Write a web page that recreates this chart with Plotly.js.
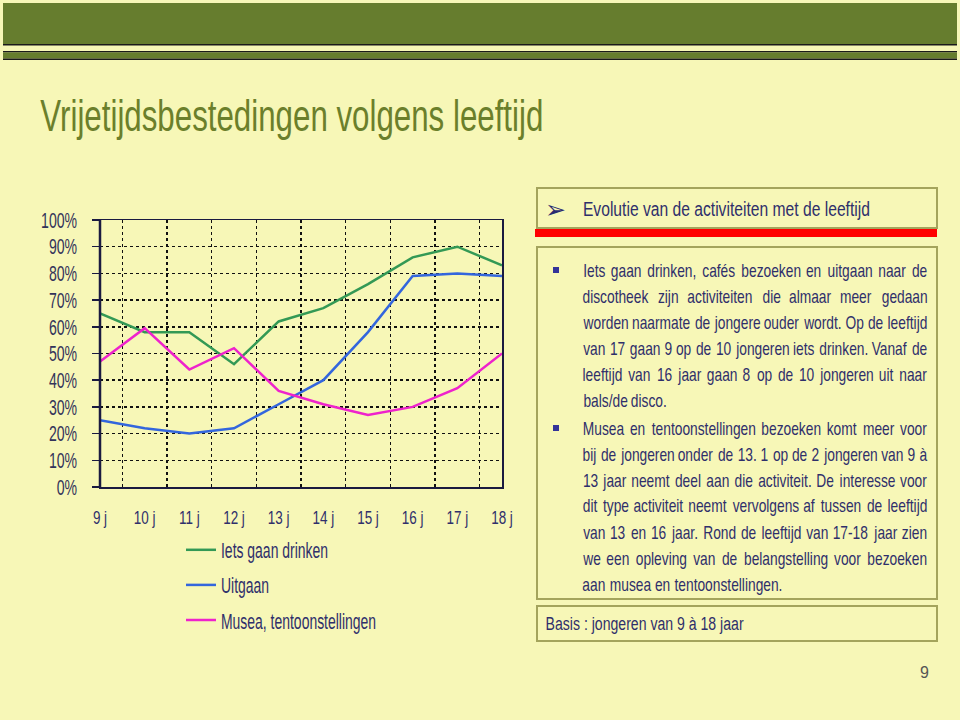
<!DOCTYPE html>
<html><head><meta charset="utf-8">
<script src="https://cdn.plot.ly/plotly-3.0.1.min.js"></script>
<style>body{margin:0;background:#F7F7B7;} #chart{width:960px;height:720px;}</style>
</head><body><div id="chart"></div>
<script>
const ages = ["9 j","10 j","11 j","12 j","13 j","14 j","15 j","16 j","17 j","18 j"];
const drinken = [65, 58, 58, 46, 62, 67, 76, 86, 90, 83];
const uitgaan = [25, 22, 20, 22, 31, 40, 58, 79, 80, 79];
const musea = [47, 59.5, 44, 52, 36, 31, 27, 30, 37, 50];
const seriesNames = ["Iets gaan drinken", "Uitgaan", "Musea, tentoonstellingen"];
const yTicks = [0,10,20,30,40,50,60,70,80,90,100];
const yTickLabels = ["0%","10%","20%","30%","40%","50%","60%","70%","80%","90%","100%"];

const pageTitle = "Vrijetijdsbestedingen volgens leeftijd";
const boxHeading = "Evolutie van de activiteiten met de leeftijd";
const para1 = ["Iets gaan drinken, cafés bezoeken en uitgaan naar de",
  "discotheek zijn activiteiten die almaar meer gedaan",
  "worden naarmate de jongere ouder wordt. Op de leeftijd",
  "van 17 gaan 9 op de 10 jongeren iets drinken. Vanaf de",
  "leeftijd van 16 jaar gaan 8 op de 10 jongeren uit naar",
  "bals/de disco."];
const para2 = ["Musea en tentoonstellingen bezoeken komt meer voor",
  "bij de jongeren onder de 13. 1 op de 2 jongeren van 9 à",
  "13 jaar neemt deel aan die activiteit. De interesse voor",
  "dit type activiteit neemt vervolgens af tussen de leeftijd",
  "van 13 en 16 jaar. Rond de leeftijd van 17-18 jaar zien",
  "we een opleving van de belangstelling voor bezoeken",
  "aan musea en tentoonstellingen."];
const basis = "Basis : jongeren van 9 à 18 jaar";
const pageNum = "9";

const W = 960, H = 720;
const X = p => p / W, Y = p => 1 - p / H;
const FAM = '"Liberation Sans", Arial, sans-serif';
const NAVY = '#2F2F6B';
const BG = '#F7F7B7';

const cv = document.createElement('canvas').getContext('2d');
function measure(t, size){ cv.font = size + 'px ' + FAM; return cv.measureText(t).width; }

const shapes = [];
const annotations = [];
const kAnn = [];
function rect(x0,y0,x1,y1,fill,lineColor,lw){
  shapes.push({type:'rect',xref:'paper',yref:'paper',x0:X(x0),x1:X(x1),y0:Y(y1),y1:Y(y0),
    fillcolor:fill, line:{color:lineColor||'rgba(0,0,0,0)', width:lw||0}, layer:'below'});
}
function text(t,x,y,size,color,xanchor,k){
  annotations.push({text:t,xref:'paper',yref:'paper',x:X(x),y:Y(y),xanchor:xanchor||'left',yanchor:'middle',
    showarrow:false,borderpad:0,font:{family:FAM,size:size,color:color}});
  kAnn.push(k||1);
}
function ctext(t,left,y,size,color,width){
  const k = width / measure(t,size);
  text(t, left + width/2, y, size, color, 'center', k);
}
// header
rect(3,3,957,44,'#667D2E');
rect(3,44,957,45.5,'#1a1a1a');
rect(3,51,957,52.5,'#1a1a1a');
rect(3,52.5,957,58.5,'#667D2E');
rect(3,58.5,957,60,'#1a1a1a');
ctext(pageTitle,40,116,44,'#6B7F2B',503);

// right boxes
rect(537,188,937,228,BG,'#A4A45C',2);
rect(535,229,937,237,'#FF0000');
rect(537,247,937,599,BG,'#A4A45C',2);
rect(537,606,937,641,BG,'#A4A45C',2);
text('➢',544,209,25,'#2A2A70');
ctext(boxHeading,583,209,20,NAVY,287);
ctext(basis,545,624,18,NAVY,198);
text(pageNum,924,672,16,'#555555','center');

// bullets
rect(553,267,559,273,'#333399');
rect(553,425,559,431,'#333399');

// justified paragraphs
const L = 583, R = 927, FS = 19;
let kP = 199 / measure(para2[para2.length-1], FS);
[...para1, ...para2].forEach(l => { kP = Math.min(kP, (R-L) / measure(l, FS)); });
function para(lines, y0){
  lines.forEach((line, i) => {
    const y = y0 + i*26;
    const words = line.split(' ');
    const widths = words.map(w => measure(w, FS) * kP);
    const total = widths.reduce((a,b)=>a+b,0);
    const last = i === lines.length-1;
    const gap = last ? measure(' ', FS) * kP : (R - L - total) / (words.length - 1);
    let x = L;
    words.forEach((w, k) => { text(w, x + widths[k]/2, y, FS, NAVY, 'center', kP); x += widths[k] + gap; });
  });
}
para(para1, 270);
para(para2, 428);

const LEGFS = 22, XFS = 18, YFS = 22;
const kLeg = 107 / measure(seriesNames[0], LEGFS);
const kX = 21.7 / measure("10 j", XFS);
const kY = 36 / measure("100%", YFS);

const lineStyle = (c) => ({color:c, width:2.5});
const traces = [
  {x:ages, y:drinken, name:seriesNames[0], type:'scatter', mode:'lines', line:lineStyle('#339955'), legendgroup:'a'},
  {x:ages, y:uitgaan, name:seriesNames[1], type:'scatter', mode:'lines', line:lineStyle('#3366DD'), legendgroup:'b'},
  {x:ages, y:musea, name:seriesNames[2], type:'scatter', mode:'lines', line:lineStyle('#EE22CC'), legendgroup:'c'}
];
shapes.push({type:'line', xref:'paper', yref:'paper', x0:X(100), x1:X(100), y0:Y(487), y1:Y(220), line:{color:'#1a1a40', width:2.5}});

const layout = {
  width:W, height:H, margin:{l:0,r:0,t:0,b:0},
  paper_bgcolor:BG, plot_bgcolor:BG,
  shapes, annotations,
  showlegend:true,
  legend:{x:X(181), y:Y(529), xanchor:'left', yanchor:'top', bgcolor:'rgba(0,0,0,0)',
    font:{family:FAM, size:LEGFS, color:NAVY}, tracegroupgap:3.5, itemwidth:30},
  xaxis:{domain:[X(100), X(502)], type:'category', tickson:'boundaries', ticks:'',
    showgrid:true, gridcolor:'#111', griddash:'dot', gridwidth:1.5,
    showline:true, mirror:true, linecolor:'#1a1a40', linewidth:1.5,
    tickfont:{family:FAM, size:XFS, color:NAVY}, ticklabelstandoff:14, fixedrange:true},
  yaxis:{domain:[Y(487), Y(220)], range:[0,100], tickmode:'array', tickvals:yTicks, ticktext:yTickLabels,
    ticks:'outside', ticklen:7, tickcolor:'#1a1a40', tickwidth:1.5,
    showgrid:true, gridcolor:'#111', griddash:'dot', gridwidth:1.5, zeroline:false,
    showline:true, mirror:true, linecolor:'#1a1a40', linewidth:1.5,
    tickfont:{family:FAM, size:YFS, color:'#33335A'}, ticklabelstandoff:10, fixedrange:true}
};

function squeeze(el, k){
  const len = el.getComputedTextLength();
  if (len > 0 && k !== 1){
    el.setAttribute('textLength', (len * k).toFixed(2));
    el.setAttribute('lengthAdjust', 'spacingAndGlyphs');
  }
  return len;
}
Plotly.newPlot('chart', traces, layout, {displayModeBar:false, staticPlot:true}).then(gd => {
  gd.querySelectorAll('.annotation').forEach(g => {
    const i = +g.getAttribute('data-index');
    const t = g.querySelector('.annotation-text');
    if (!t) return;
    const k = kAnn[i];
    const len = squeeze(t, k);
    const r = g.querySelector('rect.bg');
    if (r && k !== 1){
      const d = len * (1 - k);
      r.setAttribute('x', (+r.getAttribute('x') || 0) + d/2);
      r.setAttribute('width', Math.max(0, +r.getAttribute('width') - d));
    }
  });
  gd.querySelectorAll('.legendtext').forEach(t => squeeze(t, kLeg));
  gd.querySelectorAll('.xtick text').forEach(t => squeeze(t, kX));
  gd.querySelectorAll('.ytick text').forEach(t => squeeze(t, kY));
});
</script></body></html>
